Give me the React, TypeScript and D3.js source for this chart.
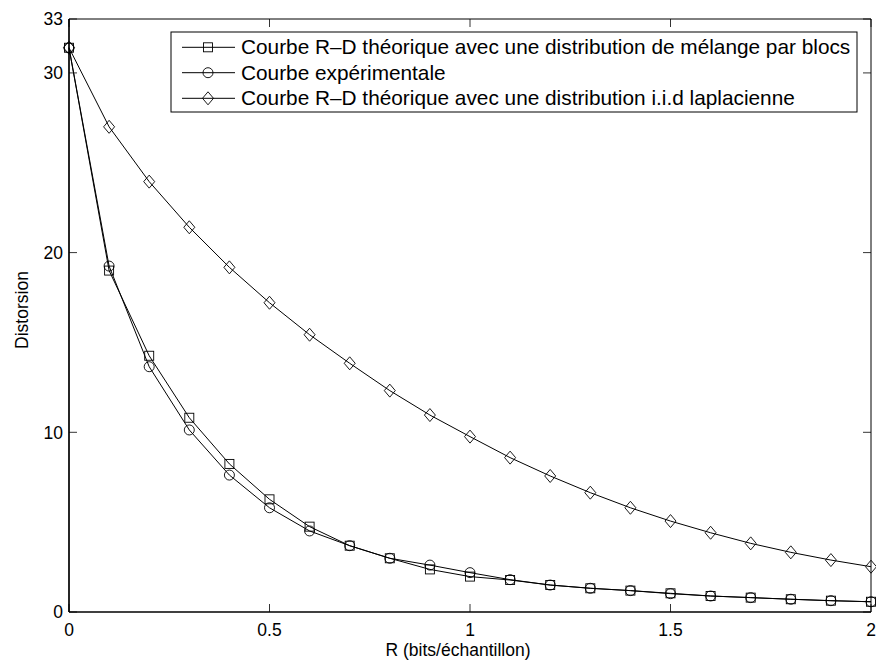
import React from 'react';
import * as d3 from 'd3';

// débit (bits/échantillon)
const rates = [0, 0.1, 0.2, 0.3, 0.4, 0.5, 0.6, 0.7, 0.8, 0.9, 1.0, 1.1, 1.2, 1.3, 1.4, 1.5, 1.6, 1.7, 1.8, 1.9, 2.0];
const mixtureCurve = [31.4, 19.0, 14.26, 10.81, 8.24, 6.27, 4.75, 3.69, 2.99, 2.37, 1.97, 1.78, 1.5, 1.32, 1.19, 1.04, 0.89, 0.8, 0.71, 0.63, 0.57];
const experimentalCurve = [31.4, 19.25, 13.65, 10.13, 7.62, 5.8, 4.51, 3.69, 2.99, 2.61, 2.19, 1.8, 1.5, 1.32, 1.19, 1.02, 0.89, 0.8, 0.71, 0.63, 0.57];
const laplacianCurve = [31.4, 27.0, 23.95, 21.41, 19.18, 17.21, 15.43, 13.84, 12.32, 10.96, 9.76, 8.59, 7.57, 6.64, 5.8, 5.06, 4.41, 3.82, 3.32, 2.89, 2.52];

const xTicks = [0, 0.5, 1, 1.5, 2];
const yTicks = [0, 10, 20, 30, 33];
const legendLabels = [
  'Courbe R\u2013D théorique avec une distribution de mélange par blocs',
  'Courbe expérimentale',
  'Courbe R\u2013D théorique avec une distribution i.i.d laplacienne',
];

type Marker = 'square' | 'circle' | 'diamond';

const FONT = '"Liberation Sans", Arial, Helvetica, sans-serif';
const FS = 17.5;
const LEGEND_FS = 20.8;

const MarkerShape: React.FC<{ kind: Marker; x: number; y: number }> = ({ kind, x, y }) => {
  const common = { fill: 'none', stroke: '#000', strokeWidth: 0.9 };
  if (kind === 'square') return <rect x={x - 4.5} y={y - 4.5} width={9} height={9} {...common} />;
  if (kind === 'circle') return <circle cx={x} cy={y} r={5} {...common} />;
  return <path d={`M${x},${y - 6.5}L${x + 5.5},${y}L${x},${y + 6.5}L${x - 5.5},${y}Z`} {...common} />;
};

const App: React.FC = () => {
  const width = 876;
  const height = 664;
  const left = 69, right = 871, top = 19, bottom = 612;

  const x = d3.scaleLinear().domain([0, 2]).range([left, right]);
  const y = d3.scaleLinear().domain([0, 33]).range([bottom, top]);

  const series: { values: number[]; marker: Marker }[] = [
    { values: mixtureCurve, marker: 'square' },
    { values: experimentalCurve, marker: 'circle' },
    { values: laplacianCurve, marker: 'diamond' },
  ];

  const line = d3.line<number>()
    .x((_, i) => x(rates[i]))
    .y(d => y(d));

  const tickLen = 8;
  const legX = 171, legY = 32, legW = 686, legH = 80;
  const rowY = [47.3, 72.7, 98.3];

  return (
    <div style={{ position: 'absolute', left: 0, top: 0 }}>
      <svg width={width} height={height} style={{ display: 'block', background: '#fff' }} fontFamily={FONT}>
        <rect x={0} y={0} width={width} height={height} fill="#fff" />

        {/* ticks */}
        {xTicks.map(t => (
          <g key={'xt' + t} stroke="#000" strokeWidth={0.8}>
            <line x1={x(t)} x2={x(t)} y1={bottom} y2={bottom - tickLen} />
            <line x1={x(t)} x2={x(t)} y1={top} y2={top + tickLen} />
          </g>
        ))}
        {yTicks.map(t => (
          <g key={'yt' + t} stroke="#000" strokeWidth={0.8}>
            <line x1={left} x2={left + tickLen} y1={y(t)} y2={y(t)} />
            <line x1={right} x2={right - tickLen} y1={y(t)} y2={y(t)} />
          </g>
        ))}

        {/* curves */}
        {series.map((s, si) => (
          <g key={si}>
            <path d={line(s.values) || ''} fill="none" stroke="#000" strokeWidth={1} />
            {s.values.map((v, i) => (
              <MarkerShape key={i} kind={s.marker} x={x(rates[i])} y={y(v)} />
            ))}
          </g>
        ))}

        {/* axes frame */}
        <line x1={left} x2={right} y1={top} y2={top} stroke="#000" strokeWidth={1} />
        <line x1={right} x2={right} y1={top} y2={bottom} stroke="#000" strokeWidth={1} />
        <line x1={left} x2={left} y1={top} y2={bottom} stroke="#000" strokeWidth={1.7} />
        <line x1={left} x2={right} y1={bottom} y2={bottom} stroke="#000" strokeWidth={1.7} />

        {/* tick labels */}
        {xTicks.map(t => (
          <text key={'xl' + t} x={x(t)} y={636} textAnchor="middle" fontSize={FS} fill="#000">
            {d3.format('~g')(t)}
          </text>
        ))}
        {yTicks.map(t => (
          <text key={'yl' + t} x={63} y={y(t) + 6.3} textAnchor="end" fontSize={FS} fill="#000">
            {t}
          </text>
        ))}

        {/* axis titles */}
        <text x={458} y={656} textAnchor="middle" fontSize={FS} fill="#000">R (bits/échantillon)</text>
        <text transform="translate(28,310) rotate(-90)" textAnchor="middle" fontSize={FS} fill="#000">Distorsion</text>

        {/* legend */}
        <rect x={legX} y={legY} width={legW} height={legH} fill="#fff" stroke="#000" strokeWidth={1} />
        {series.map((s, i) => (
          <g key={'lg' + i}>
            <line x1={182} x2={235} y1={rowY[i]} y2={rowY[i]} stroke="#000" strokeWidth={1} />
            <MarkerShape kind={s.marker} x={208} y={rowY[i]} />
            <text x={241} y={rowY[i] + 7} fontSize={LEGEND_FS} fill="#000">
              {legendLabels[i]}
            </text>
          </g>
        ))}
      </svg>
    </div>
  );
};

export default App;
